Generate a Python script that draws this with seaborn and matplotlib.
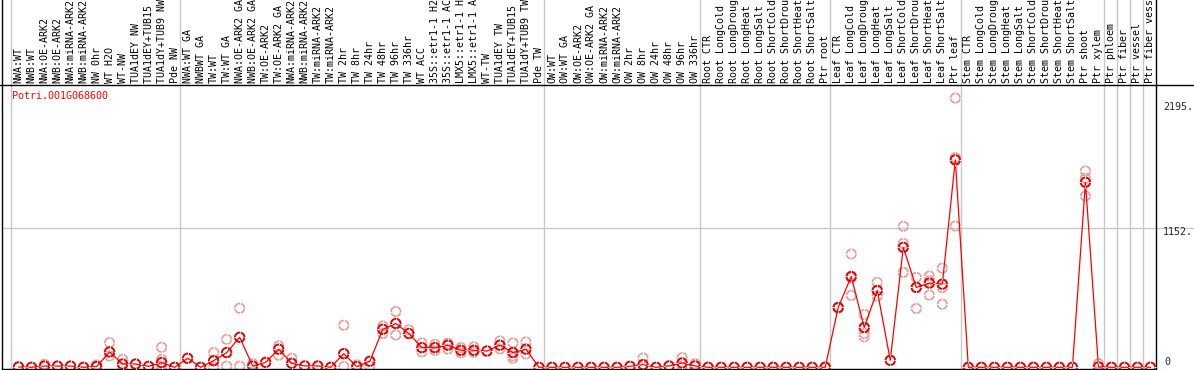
import matplotlib
matplotlib.use("Agg")
import matplotlib.pyplot as plt
from matplotlib.path import Path
from matplotlib.lines import Line2D
import seaborn as sns
import pandas as pd
import numpy as np

# ---- data ----
gene = "Potri.001G068600"

labels = [
    "NWA:WT", "NWB:WT", "NWA:OE-ARK2", "NWB:OE-ARK2", "NWA:miRNA-ARK2",
    "NWB:miRNA-ARK2", "NW 0hr", "WT H2O", "WT-NW", "TUA1dEY NW",
    "TUA1dEY+TUB15 NW", "TUA1dY+TUB9 NW", "Pde NW",
    "NWA:WT GA", "NWBWT GA", "TW:WT", "TW:WT GA", "NWA:OE-ARK2 GA",
    "NWB:OE-ARK2 GA", "TW:OE-ARK2", "TW:OE-ARK2 GA", "NWA:miRNA-ARK2",
    "NWB:miRNA-ARK2", "TW:miRNA-ARK2", "TW:miRNA-ARK2", "TW 2hr", "TW 8hr",
    "TW 24hr", "TW 48hr", "TW 96hr", "TW 336hr", "WT ACC",
    "35S::etr1-1 H2O", "35S::etr1-1 ACC", "LMX5::etr1-1 H2O",
    "LMX5::etr1-1 ACC", "WT-TW", "TUA1dEY TW", "TUA1dEY+TUB15 TW",
    "TUA1dY+TUB9 TW", "Pde TW",
    "OW:WT", "OW:WT GA", "OW:OE-ARK2", "OW:OE-ARK2 GA", "OW:miRNA-ARK2",
    "OW:miRNA-ARK2", "OW 2hr", "OW 8hr", "OW 24hr", "OW 48hr", "OW 96hr",
    "OW 336hr",
    "Root CTR", "Root LongCold", "Root LongDrought", "Root LongHeat",
    "Root LongSalt", "Root ShortCold", "Root ShortDrought", "Root ShortHeat",
    "Root ShortSalt", "Ptr root",
    "Leaf CTR", "Leaf LongCold", "Leaf LongDrought", "Leaf LongHeat",
    "Leaf LongSalt", "Leaf ShortCold", "Leaf ShortDrought", "Leaf ShortHeat",
    "Leaf ShortSalt", "Ptr leaf",
    "Stem CTR", "Stem LongCold", "Stem LongDrought", "Stem LongHeat",
    "Stem LongSalt", "Stem ShortCold", "Stem ShortDrought", "Stem ShortHeat",
    "Stem ShortSalt", "Ptr shoot",
    "Ptr xylem", "Ptr phloem", "Ptr fiber", "Ptr vessel", "Ptr fiber vessel",
]

means = [
    3, 0, 10, 10, 10, 0, 6, 127, 27, 27, 8, 39, 0,
    75, 0, 55, 122, 249, 10, 41, 150, 33, 11, 11, 0, 113, 5, 50, 315, 363,
    280, 163, 163, 183, 141, 141, 135, 183, 122, 150, 0,
    0, 0, 0, 0, 0, 0, 8, 22, 0, 11, 36, 11,
    0, 0, 0, 0, 0, 0, 0, 0, 0, 0,
    496, 753, 330, 637, 58, 994, 662, 698, 689, 1719,
    0, 0, 0, 0, 0, 0, 0, 0, 0, 1534,
    3, 0, 0, 0, 0,
]

# single replicates that stand apart from the mean
rep_idx = [2, 6, 7, 7, 8, 8, 11, 11, 11, 15, 15, 16, 16, 17, 17, 18, 20, 20,
           21, 25, 25, 26, 27, 28, 28, 29, 29, 30, 31, 31, 32, 32, 33, 33,
           34, 34, 35, 35, 37, 37, 38, 38, 38, 39, 39, 48, 51, 51, 52, 62,
           63, 64, 64, 64, 65, 65, 65, 66, 66, 68, 68, 68, 69, 69, 70, 70,
           70, 71, 71, 71, 72, 72, 72, 82, 82, 82, 83]
rep_val = [25, 20, 205, 94, 66, 0, 166, 66, 10, 122, 0, 232, 10, 490, 10, 30,
           177, 100, 75, 349, 5, 20, 10, 343, 280, 462, 268, 310, 202, 127,
           190, 140, 200, 150, 163, 120, 170, 125, 218, 152, 202, 95, 75,
           210, 110, 77, 80, 10, 30, 5,
           490, 939, 596, 740, 438, 280, 252, 704, 590, 1169, 1027, 787,
           745, 488, 756, 598, 720, 822, 523, 660, 2232, 1738, 1171,
           1628, 1567, 1420, 30]

group_edges = [0, 13, 41, 53, 63, 73, 84, 85, 86, 87]
ytick_vals = [2195, 1152, 0]

# ---- style ----
sns.set_style("white")
plt.rcParams['font.family'] = ['DejaVu Sans Mono']
fs = 7.2

W, H = 1194, 370
fig = plt.figure(figsize=(W / 100, H / 100), dpi=100)
ax = fig.add_axes([2 / W, 1 / H, (1155.7 - 2) / W, 369 / H])

k = 8.29          # value per pixel
zero_px = 367.3   # pixel row of value 0
ax.set_xlim(-(10.7 - 2) / 13.01, 88)
ax.set_ylim(-(369 - zero_px) * k, zero_px * k)
ax.set_xticks([])
ax.set_yticks([])
for side in ["left", "bottom", "right"]:
    ax.spines[side].set_color("black")
    ax.spines[side].set_linewidth(1)
ax.spines["top"].set_visible(False)

# group separators run through header too
for e in group_edges:
    ax.axvline(e, color="#c8c8c8", lw=1, zorder=0)

# header separator
hy = (H - 85) / H
fig.add_artist(Line2D([0, 1], [hy, hy], transform=fig.transFigure,
                      color="black", lw=1))
ax.axhline(1152, xmin=0, xmax=(W - 2) / 1153.7, color="#c8c8c8", lw=1,
           clip_on=False, zorder=0)

# header labels
xs = np.arange(len(means)) + 0.6
lab_y = (zero_px - 83) * k
for x, lab in zip(xs, labels):
    ax.text(x, lab_y, lab, rotation=90, ha="center", va="bottom",
            fontsize=fs, color="black")

# tick marks around circles
tick = Path([(0, 0.75), (0, 1.3), (0, -0.75), (0, -1.3),
             (0.75, 0), (1.3, 0), (-0.75, 0), (-1.3, 0)],
            [Path.MOVETO, Path.LINETO] * 4)

reps = pd.DataFrame({"x": np.array(rep_idx) + 0.6, "y": rep_val})
pale = "#e89a9a"
sns.scatterplot(data=reps, x="x", y="y", ax=ax, marker="o", s=46,
                facecolor="none", edgecolor=pale, linewidth=1.2, zorder=2)
sns.scatterplot(data=reps, x="x", y="y", ax=ax, marker=tick, s=80,
                color=pale, linewidth=0.8, zorder=2)

df = pd.DataFrame({"x": xs, "y": means})
sns.lineplot(data=df, x="x", y="y", ax=ax, color="#ff0000", lw=0.9,
             zorder=3)
sns.scatterplot(data=df, x="x", y="y", ax=ax, marker="o", s=46,
                facecolor="none", edgecolor="#e00000", linewidth=1.4,
                zorder=4)
sns.scatterplot(data=df, x="x", y="y", ax=ax, marker=tick, s=80,
                color="#800000", linewidth=0.8, zorder=4)
ax.set_xlabel("")
ax.set_ylabel("")

# gene name
ax.text(10 / 13.01 - 0.669 + 0.0, (zero_px - 96) * k, gene, color="red",
        fontsize=fs, ha="left", va="center")

# value labels on the right
for v in ytick_vals:
    off = 5 if v == 0 else -4
    ax.annotate(f"{v}." if v else "0", xy=(1, v),
                xycoords=("axes fraction", "data"),
                xytext=(7.5 if v else 8.5, off), textcoords="offset pixels",
                ha="left", va="center", fontsize=fs, annotation_clip=False)

fig.savefig("out.png", dpi=100)
